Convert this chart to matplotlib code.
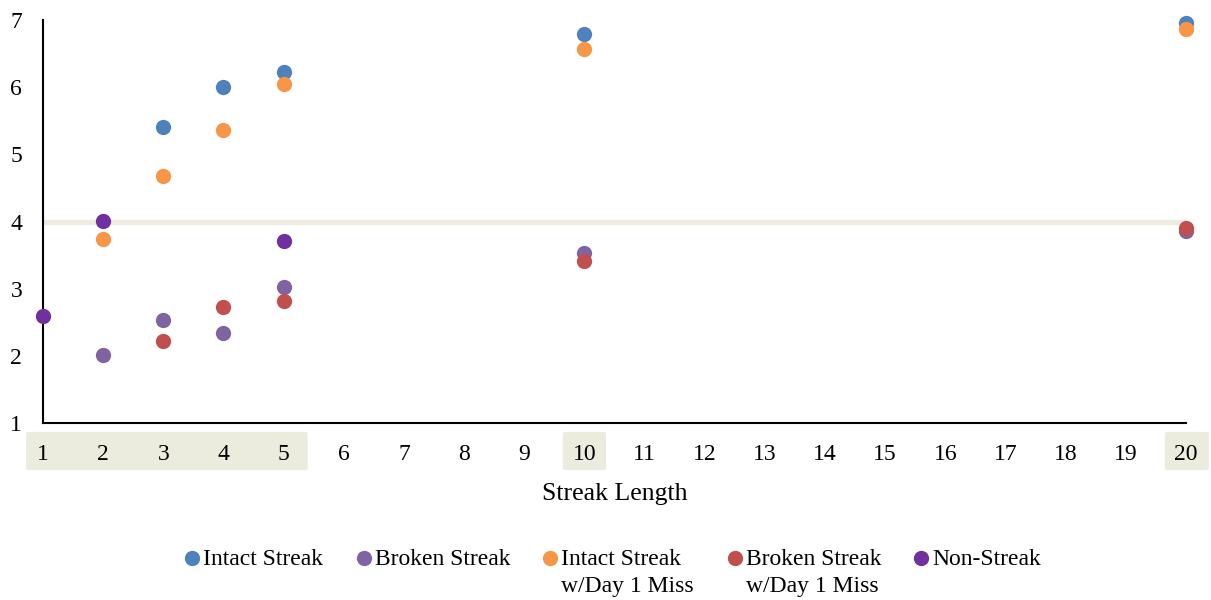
import numpy as np
import matplotlib.pyplot as plt
from matplotlib.lines import Line2D
from matplotlib.patches import FancyBboxPatch
import matplotlib.transforms as mtransforms

plt.rcParams['font.family'] = ['Liberation Serif', 'DejaVu Serif']

# streak lengths and mean scores per group
intact_x = [3, 4, 5, 10, 20]
intact_y = [5.40, 6.00, 6.22, 6.79, 6.95]

broken_x = [2, 3, 4, 5, 10, 20]
broken_y = [2.01, 2.53, 2.34, 3.02, 3.53, 3.86]

intact_miss_x = [2, 3, 4, 5, 10, 20]
intact_miss_y = [3.74, 4.68, 5.36, 6.04, 6.57, 6.86]

broken_miss_x = [3, 4, 5, 10, 20]
broken_miss_y = [2.22, 2.73, 2.82, 3.41, 3.90]

non_streak_x = [1, 2, 5]
non_streak_y = [2.59, 4.01, 3.71]

reference_level = 4
x_ticks = list(range(1, 21))
y_ticks = [1, 2, 3, 4, 5, 6, 7]

series = [
    ('Intact Streak', intact_x, intact_y, '#4f81bd'),
    ('Broken Streak', broken_x, broken_y, '#8064a2'),
    ('Intact Streak\nw/Day 1 Miss', intact_miss_x, intact_miss_y, '#f79646'),
    ('Broken Streak\nw/Day 1 Miss', broken_miss_x, broken_miss_y, '#c0504d'),
    ('Non-Streak', non_streak_x, non_streak_y, '#7030a0'),
]

W, H = 1211, 600
fig = plt.figure(figsize=(W / 100, H / 100), dpi=100)
ax = fig.add_axes([43 / W, 1 - 423 / H, (1186 - 43) / W, (423 - 20) / H])

ax.axhline(reference_level, color='#eeece1', lw=3.8, zorder=1)

for label, xs, ys, color in series:
    ax.plot(xs, ys, 'o', color=color, markersize=11, markeredgewidth=0,
            clip_on=False, zorder=3)

ax.set_xlim(1, 20)
ax.set_ylim(1, 7)
ax.set_xticks(x_ticks)
ax.set_yticks(y_ticks)
ax.tick_params(length=0, labelsize=17)
ax.tick_params(axis='x', pad=15)
ax.tick_params(axis='y', pad=15)
for side in ['top', 'right']:
    ax.spines[side].set_visible(False)
for side in ['left', 'bottom']:
    ax.spines[side].set_linewidth(1.5)
ax.set_xlabel('Streak Length', fontsize=18.5, labelpad=13)

# shaded boxes behind the highlighted streak lengths
trans = mtransforms.blended_transform_factory(ax.transData, ax.transAxes)
for lo, hi in [(0.72, 5.40), (9.64, 10.36), (19.65, 20.38)]:
    box = FancyBboxPatch((lo, -0.117), hi - lo, 0.095,
                         boxstyle='round,pad=0,rounding_size=0.08',
                         mutation_aspect=0.05,
                         transform=trans, facecolor='#ebebde', edgecolor='none',
                         clip_on=False, zorder=0)
    ax.add_patch(box)

# legend row below the axis, labels wrap onto a second line
legend_pos = [192, 364, 550, 735, 921]
for (label, xs, ys, color), px in zip(series, legend_pos):
    fig.add_artist(Line2D([px / W], [1 - 558 / H], marker='o', color=color,
                          markersize=11, markeredgewidth=0, linestyle='none',
                          transform=fig.transFigure))
    for i, line in enumerate(label.split('\n')):
        fig.text((px + 11) / W, 1 - (565 + 27 * i) / H, line, fontsize=17,
                 ha='left', va='baseline')

fig.savefig('out.png', dpi=100)
